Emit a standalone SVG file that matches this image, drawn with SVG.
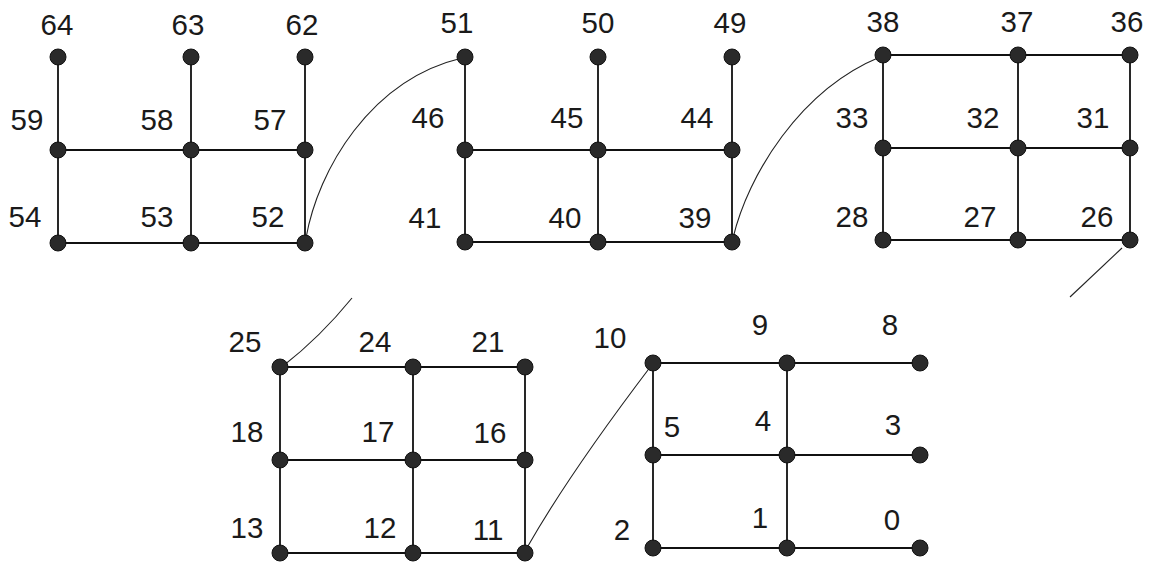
<svg xmlns="http://www.w3.org/2000/svg" width="1151" height="567" viewBox="0 0 1151 567">
<style>
.e{stroke:#111;stroke-width:1.8;fill:none}
.c{stroke:#222;stroke-width:1.1;fill:none}
.n circle{fill:#2a2a2a;stroke:#111;stroke-width:1}
.n text{font-family:"Liberation Sans",Arial,sans-serif;font-size:29.5px;fill:#1a1a1a;text-anchor:middle}
</style>
<rect width="1151" height="567" fill="#fff"/>
<g id="connectors">
<path class="e" d="M58,57V243M191,57V243M305,57V243M58,150H305M58,243H305"/>
<path class="e" d="M465,57V242M598,57V242M732,57V242M465,150H732M465,242H732"/>
<path class="e" d="M883,55V240M1018,55V240M1130,55V240M883,55H1130M883,148H1130M883,240H1130"/>
<path class="e" d="M280,367V553M413,367V553M525,367V553M280,367H525M280,460H525M280,553H525"/>
<path class="e" d="M653,363V548M787,363V548M653,363H920M653,455H920M653,548H920"/>
<path class="c" d="M306,238C318,170 370,80 462,58"/>
<path class="c" d="M733,238C748,175 800,90 880,57"/>
<path class="c" d="M1122,248L1070,297"/>
<path class="c" d="M352,298C330,325 310,345 283,366"/>
<path class="c" d="M528,546C560,490 610,420 651,366"/>
</g>
<g id="n64" class="n"><circle cx="58" cy="57" r="8"/><text x="57" y="35">64</text></g>
<g id="n63" class="n"><circle cx="191" cy="57" r="8"/><text x="188" y="35">63</text></g>
<g id="n62" class="n"><circle cx="305" cy="57" r="8"/><text x="302" y="35">62</text></g>
<g id="n59" class="n"><circle cx="58" cy="150" r="8"/><text x="27" y="130">59</text></g>
<g id="n58" class="n"><circle cx="191" cy="150" r="8"/><text x="157" y="130">58</text></g>
<g id="n57" class="n"><circle cx="305" cy="150" r="8"/><text x="270" y="130">57</text></g>
<g id="n54" class="n"><circle cx="58" cy="243" r="8"/><text x="25" y="227">54</text></g>
<g id="n53" class="n"><circle cx="191" cy="243" r="8"/><text x="157" y="227">53</text></g>
<g id="n52" class="n"><circle cx="305" cy="243" r="8"/><text x="268" y="227">52</text></g>

<g id="n51" class="n"><circle cx="465" cy="57" r="8"/><text x="457" y="33">51</text></g>
<g id="n50" class="n"><circle cx="598" cy="57" r="8"/><text x="598" y="33">50</text></g>
<g id="n49" class="n"><circle cx="732" cy="57" r="8"/><text x="730" y="33">49</text></g>
<g id="n46" class="n"><circle cx="465" cy="150" r="8"/><text x="428" y="128">46</text></g>
<g id="n45" class="n"><circle cx="598" cy="150" r="8"/><text x="567" y="128">45</text></g>
<g id="n44" class="n"><circle cx="732" cy="150" r="8"/><text x="697" y="128">44</text></g>
<g id="n41" class="n"><circle cx="465" cy="242" r="8"/><text x="425" y="228">41</text></g>
<g id="n40" class="n"><circle cx="598" cy="242" r="8"/><text x="565" y="228">40</text></g>
<g id="n39" class="n"><circle cx="732" cy="242" r="8"/><text x="695" y="228">39</text></g>

<g id="n38" class="n"><circle cx="883" cy="55" r="8"/><text x="883" y="32">38</text></g>
<g id="n37" class="n"><circle cx="1018" cy="55" r="8"/><text x="1017" y="32">37</text></g>
<g id="n36" class="n"><circle cx="1130" cy="55" r="8"/><text x="1127" y="32">36</text></g>
<g id="n33" class="n"><circle cx="883" cy="148" r="8"/><text x="852" y="128">33</text></g>
<g id="n32" class="n"><circle cx="1018" cy="148" r="8"/><text x="983" y="128">32</text></g>
<g id="n31" class="n"><circle cx="1130" cy="148" r="8"/><text x="1093" y="128">31</text></g>
<g id="n28" class="n"><circle cx="883" cy="240" r="8"/><text x="852" y="227">28</text></g>
<g id="n27" class="n"><circle cx="1018" cy="240" r="8"/><text x="980" y="227">27</text></g>
<g id="n26" class="n"><circle cx="1130" cy="240" r="8"/><text x="1097" y="227">26</text></g>

<g id="n25" class="n"><circle cx="280" cy="367" r="8"/><text x="245" y="352">25</text></g>
<g id="n24" class="n"><circle cx="413" cy="367" r="8"/><text x="375" y="352">24</text></g>
<g id="n21" class="n"><circle cx="525" cy="367" r="8"/><text x="488" y="352">21</text></g>
<g id="n18" class="n"><circle cx="280" cy="460" r="8"/><text x="247" y="442">18</text></g>
<g id="n17" class="n"><circle cx="413" cy="460" r="8"/><text x="378" y="442">17</text></g>
<g id="n16" class="n"><circle cx="525" cy="460" r="8"/><text x="490" y="443">16</text></g>
<g id="n13" class="n"><circle cx="280" cy="553" r="8"/><text x="247" y="538">13</text></g>
<g id="n12" class="n"><circle cx="413" cy="553" r="8"/><text x="380" y="538">12</text></g>
<g id="n11" class="n"><circle cx="525" cy="553" r="8"/><text x="488" y="540">11</text></g>

<g id="n10" class="n"><circle cx="653" cy="363" r="8"/><text x="610" y="348">10</text></g>
<g id="n9" class="n"><circle cx="787" cy="363" r="8"/><text x="760" y="335">9</text></g>
<g id="n8" class="n"><circle cx="920" cy="363" r="8"/><text x="890" y="335">8</text></g>
<g id="n5" class="n"><circle cx="653" cy="455" r="8"/><text x="672" y="437">5</text></g>
<g id="n4" class="n"><circle cx="787" cy="455" r="8"/><text x="763" y="431">4</text></g>
<g id="n3" class="n"><circle cx="920" cy="455" r="8"/><text x="893" y="435">3</text></g>
<g id="n2" class="n"><circle cx="653" cy="548" r="8"/><text x="622" y="540">2</text></g>
<g id="n1" class="n"><circle cx="787" cy="548" r="8"/><text x="760" y="528">1</text></g>
<g id="n0" class="n"><circle cx="920" cy="548" r="8"/><text x="892" y="530">0</text></g>
</svg>
